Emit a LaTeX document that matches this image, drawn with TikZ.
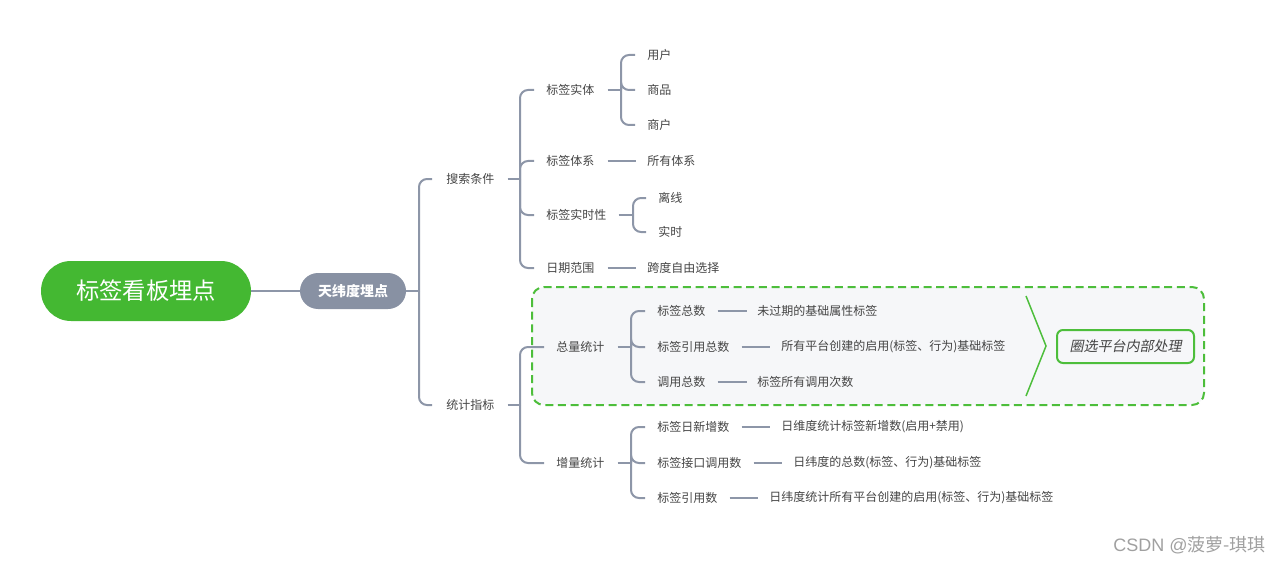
\documentclass[tikz,border=0pt]{standalone}
\usepackage{fontspec}
\setmainfont{Noto Sans CJK SC}
\newfontfamily\cjkslant[FakeSlant=0.2]{Noto Sans CJK SC}
\newfontfamily\latinsans{Liberation Sans}
\usetikzlibrary{calc}
\definecolor{rootgreen}{HTML}{44B832}
\definecolor{boxgreen}{HTML}{4DBE3B}
\definecolor{hubgray}{HTML}{8891A3}
\definecolor{linkgray}{HTML}{8D96A8}
\definecolor{txtgray}{HTML}{444444}
\definecolor{panel}{HTML}{F6F7F9}
\definecolor{markgray}{HTML}{A0A0A0}
\tikzset{
  link/.style={draw=linkgray, line width=1.5pt},
  bracket/.style={link, rounded corners=6pt},
  lbl/.style={anchor=west, inner sep=0pt, text=txtgray, font=\fontsize{9}{11}\selectfont},
  rootnode/.style={fill=rootgreen, text=white, rounded corners=22.5pt,
    minimum width=157.5pt, minimum height=45pt, inner sep=0pt,
    font=\fontsize{17.5}{20}\selectfont},
  hubnode/.style={fill=hubgray, text=white, rounded corners=13.5pt,
    minimum width=79.5pt, minimum height=27pt, inner sep=0pt,
    font=\fontsize{10.5}{12}\selectfont\bfseries},
  groupbox/.style={draw=boxgreen, fill=panel, line width=1.5pt,
    dash pattern=on 6pt off 3.5pt, rounded corners=9pt},
  notebox/.style={draw=boxgreen, line width=1.5pt, rounded corners=4.5pt,
    minimum width=102.75pt, minimum height=24.75pt, inner sep=0pt,
    text=txtgray, font=\fontsize{10.5}{12}\selectfont\cjkslant},
  summary/.style={draw=boxgreen, line width=1.1pt}
}
\begin{document}
\begin{tikzpicture}[x=0.75pt, y=-0.75pt]
\useasboundingbox (0,0) rectangle (1280,563);

% highlighted group of totals
\draw[groupbox] (532,287) rectangle (1204,405);

% root and hub
\node[rootnode] (root) at (146,291) {标签看板埋点};
\node[hubnode] (hub) at (353,291) {天纬度埋点};
\coordinate (b0) at (419,291);
\draw[link] (root.east) -- (hub.west);
\draw[link] (hub.east) -- (b0);

% first level
\node[lbl] (s) at (446,179) {搜索条件};
\node[lbl] (t) at (446,405) {统计指标};
\foreach \c in {s,t} \draw[bracket] (b0) |- ($(\c.west)+(-14,0)$);

% search conditions
\coordinate (b1) at (520,179);
\node[lbl] (e1) at (546,90) {标签实体};
\node[lbl] (e2) at (546,161) {标签体系};
\node[lbl] (e3) at (546,215) {标签实时性};
\node[lbl] (e4) at (546,268) {日期范围};
\draw[link] ($(s.east)+(13,0)$) -- (b1);
\foreach \c in {e1,e2,e3,e4} \draw[bracket] (b1) |- ($(\c.west)+(-12,0)$);

% tag entity
\coordinate (b2) at (621,90);
\node[lbl] (u1) at (647,55) {用户};
\node[lbl] (u2) at (647,90) {商品};
\node[lbl] (u3) at (647,125) {商户};
\draw[link] ($(e1.east)+(13,0)$) -- (b2);
\foreach \c in {u1,u2,u3} \draw[bracket] (b2) |- ($(\c.west)+(-12,0)$);

% tag system
\node[lbl] (v1) at (647,161) {所有体系};
\draw[link] ($(e2.east)+(13,0)$) -- ($(v1.west)+(-11,0)$);

% real-time property
\coordinate (b3) at (633,215);
\node[lbl] (r1) at (658,198) {离线};
\node[lbl] (r2) at (658,232) {实时};
\draw[link] ($(e3.east)+(12,0)$) -- (b3);
\foreach \c in {r1,r2} \draw[bracket] (b3) |- ($(\c.west)+(-12,0)$);

% date range
\node[lbl] (d1) at (647,268) {跨度自由选择};
\draw[link] ($(e4.east)+(13,0)$) -- ($(d1.west)+(-11,0)$);

% statistics
\coordinate (b4) at (520,405);
\node[lbl] (g1) at (556,347) {总量统计};
\node[lbl] (g2) at (556,463) {增量统计};
\draw[link] ($(t.east)+(13,0)$) -- (b4);
\foreach \c in {g1,g2} \draw[bracket] (b4) |- ($(\c.west)+(-12,0)$);

% totals
\coordinate (b5) at (631,347);
\node[lbl] (k1) at (657,311) {标签总数};
\node[lbl] (k2) at (657,347) {标签引用总数};
\node[lbl] (k3) at (657,382) {调用总数};
\draw[link] ($(g1.east)+(13,0)$) -- (b5);
\foreach \c in {k1,k2,k3} \draw[bracket] (b5) |- ($(\c.west)+(-12,0)$);
\node[lbl] (l1) at (757,311) {未过期的基础属性标签};
\node[lbl] (l2) at (781,347) {所有平台创建的启用(标签、行为)基础标签};
\node[lbl] (l3) at (757,382) {标签所有调用次数};
\draw[link] ($(k1.east)+(12,0)$) -- ($(l1.west)+(-10,0)$);
\draw[link] ($(k2.east)+(12,0)$) -- ($(l2.west)+(-11,0)$);
\draw[link] ($(k3.east)+(12,0)$) -- ($(l3.west)+(-10,0)$);

% increments
\coordinate (b6) at (631,463);
\node[lbl] (n1) at (657,427) {标签日新增数};
\node[lbl] (n2) at (657,463) {标签接口调用数};
\node[lbl] (n3) at (657,498) {标签引用数};
\draw[link] ($(g2.east)+(13,0)$) -- (b6);
\foreach \c in {n1,n2,n3} \draw[bracket] (b6) |- ($(\c.west)+(-12,0)$);
\node[lbl] (m1) at (781,427) {日维度统计标签新增数(启用+禁用)};
\node[lbl] (m2) at (793,463) {日纬度的总数(标签、行为)基础标签};
\node[lbl] (m3) at (769,498) {日纬度统计所有平台创建的启用(标签、行为)基础标签};
\draw[link] ($(n1.east)+(12,0)$) -- ($(m1.west)+(-11,0)$);
\draw[link] ($(n2.east)+(12,0)$) -- ($(m2.west)+(-11,0)$);
\draw[link] ($(n3.east)+(12,0)$) -- ($(m3.west)+(-11,0)$);

% summary of the group
\coordinate (sumtop) at (1026,296);
\coordinate (sumtip) at (1046,346);
\coordinate (sumbot) at (1026,396);
\draw[summary] (sumtop) -- (sumtip) -- (sumbot);
\node[notebox] (note) at (1125.5,346.5) {圈选平台内部处理};

% watermark
\node[anchor=west, inner sep=0pt, text=markgray, font=\fontsize{13.5}{16}\selectfont] (wm) at (1113,545) {{\latinsans CSDN @}菠萝-琪琪};
\end{tikzpicture}
\end{document}
